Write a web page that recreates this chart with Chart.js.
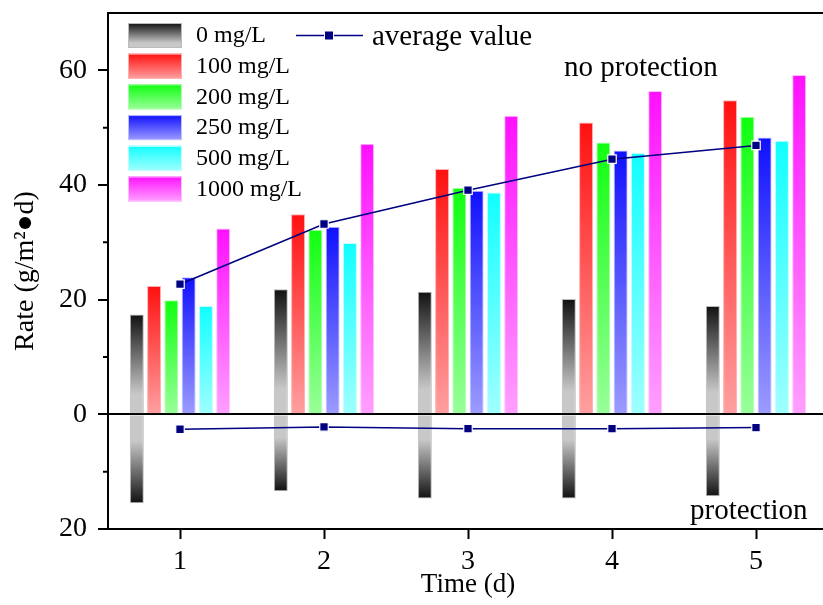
<!DOCTYPE html>
<html>
<head>
<meta charset="utf-8">
<script src="https://cdn.jsdelivr.net/npm/chart.js@4.4.1/dist/chart.umd.min.js"></script>
<style>
  html, body { margin: 0; padding: 0; overflow: hidden; background: #fff; }
  #wrap { width: 823px; height: 605px; overflow: hidden; }
</style>
</head>
<body>
<div id="wrap"><canvas id="rateChart" width="840" height="605"></canvas></div>
<script>
// data
var days = ['1', '2', '3', '4', '5'];
var seriesNames = ['0 mg/L', '100 mg/L', '200 mg/L', '250 mg/L', '500 mg/L', '1000 mg/L'];
var c0 = [17.4, 21.8, 21.4, 20.1, 18.9];
var c100 = [22.4, 34.9, 42.8, 50.9, 54.8];
var c200 = [19.9, 32.2, 39.5, 47.4, 51.9];
var c250 = [23.9, 32.7, 39.0, 46.0, 48.3];
var c500 = [18.9, 29.9, 38.7, 45.6, 47.7];
var c1000 = [32.4, 47.2, 52.1, 56.4, 59.2];
var avgNoProtection = [22.7, 33.2, 39.1, 44.5, 46.9];
var protection = [-15.5, -13.4, -14.7, -14.7, -14.3];
var avgProtection = [-2.6, -2.2, -2.5, -2.5, -2.3];
var yTicks = [-20, 0, 20, 40, 60];
var yMinorTicks = [-10, 10, 30, 50];

var serif = '"Liberation Serif", "Times New Roman", serif';
var navy = '#000080';

// gradient stops per series: [offset, colour], from bar end towards the zero line
var gradStops = [
  [[0, '#111111'], [0.8, '#c8c8c8'], [1, '#c8c8c8']],
  [[0, '#ff1010'], [1, '#ffa0a0']],
  [[0, '#10ff10'], [1, '#99ff99']],
  [[0, '#1010ff'], [1, '#9c9cff']],
  [[0, '#10ffff'], [1, '#a0ffff']],
  [[0, '#ff10ff'], [1, '#ffa0ff']]
];
var edgeColors = ['#bbbbbb', '#ffb0b0', '#b0ffb0', '#c0c0ff', '#c0ffff', '#ffc0ff'];
var protStops = [[0, '#c8c8c8'], [0.3, '#c8c8c8'], [1, '#111111']];

function barGradient(stops) {
  return function(ctx) {
    var chart = ctx.chart;
    var ys = chart.scales.y;
    if (!chart.chartArea || !ys) return stops[0][1];
    var p0 = ys.getPixelForValue(0);
    var p1 = ys.getPixelForValue(ctx.raw);
    if (!isFinite(p0) || !isFinite(p1) || p0 === p1) return stops[0][1];
    var g = chart.ctx.createLinearGradient(0, p1, 0, p0);
    stops.forEach(function(s) { g.addColorStop(s[0], s[1]); });
    return g;
  };
}
function negGradient(stops) {
  return function(ctx) {
    var chart = ctx.chart;
    var ys = chart.scales.y;
    if (!chart.chartArea || !ys) return stops[0][1];
    var p0 = ys.getPixelForValue(0);
    var p1 = ys.getPixelForValue(ctx.raw);
    if (!isFinite(p0) || !isFinite(p1) || p0 === p1) return stops[0][1];
    var g = chart.ctx.createLinearGradient(0, p0, 0, p1);
    stops.forEach(function(s) { g.addColorStop(s[0], s[1]); });
    return g;
  };
}

var barValues = [c0, c100, c200, c250, c500, c1000];
var datasets = [];
barValues.forEach(function(vals, i) {
  datasets.push({
    type: 'bar',
    label: seriesNames[i],
    data: vals,
    stack: 's' + i,
    order: 2,
    backgroundColor: barGradient(gradStops[i]),
    borderColor: edgeColors[i],
    borderWidth: 1
  });
});
datasets.push({
  type: 'bar',
  label: 'protection',
  data: protection,
  stack: 's0',
  order: 2,
  backgroundColor: negGradient(protStops),
  borderColor: '#bbbbbb',
  borderWidth: 1
});
[avgNoProtection, avgProtection].forEach(function(vals, i) {
  datasets.push({
    type: 'line',
    label: 'average value',
    data: vals,
    stack: 'avg' + i,
    order: 0,
    borderColor: navy,
    borderWidth: 1.5,
    pointStyle: 'rect',
    pointRadius: 6,
    pointBackgroundColor: navy,
    pointBorderColor: '#ffffff',
    pointBorderWidth: 1.2,
    tension: 0
  });
});

// frame top line, minor y ticks
var framePlugin = {
  id: 'frame',
  afterDraw: function(chart) {
    var c = chart.ctx, a = chart.chartArea, ys = chart.scales.y;
    c.save();
    c.strokeStyle = '#000';
    c.lineWidth = 2;
    c.beginPath();
    c.moveTo(a.left - 1, a.top);
    c.lineTo(a.right, a.top);
    yMinorTicks.forEach(function(v) {
      var y = ys.getPixelForValue(v);
      c.moveTo(a.left - 5, y);
      c.lineTo(a.left, y);
    });
    c.stroke();
    c.restore();
  }
};

// legend inside the plot, plus the two region labels
var legendPlugin = {
  id: 'insideLegend',
  afterDatasetsDraw: function(chart) {
    var c = chart.ctx;
    c.save();
    c.textBaseline = 'middle';
    c.fillStyle = '#000';
    c.font = '24px ' + serif;
    seriesNames.forEach(function(name, i) {
      var top = 23 + i * 30.7;
      var g = c.createLinearGradient(0, top, 0, top + 25);
      gradStops[i].forEach(function(s) { g.addColorStop(s[0], s[1]); });
      c.fillStyle = g;
      c.fillRect(128, top, 54, 25);
      c.strokeStyle = edgeColors[i];
      c.lineWidth = 1;
      c.strokeRect(128.5, top + 0.5, 53, 24);
      c.fillStyle = '#000';
      c.fillText(name, 196, top + 13);
    });
    // average value entry
    c.strokeStyle = navy;
    c.lineWidth = 1.5;
    c.beginPath();
    c.moveTo(296, 35.5);
    c.lineTo(363, 35.5);
    c.stroke();
    c.fillStyle = '#fff';
    c.fillRect(324, 30.5, 10, 10);
    c.fillStyle = navy;
    c.fillRect(325, 31.5, 8, 8);
    c.fillStyle = '#000';
    c.font = '29px ' + serif;
    c.fillText('average value', 372, 37);
    c.textBaseline = 'alphabetic';
    c.fillText('no protection', 564, 76);
    c.fillText('protection', 690, 519);
    c.restore();
  }
};

Chart.defaults.font.family = serif;
Chart.defaults.color = '#000';

var ctx = document.getElementById('rateChart').getContext('2d');
var rateChart = new Chart(ctx, {
  data: { labels: days, datasets: datasets },
  options: {
    responsive: false,
    animation: false,
    layout: { padding: { top: 13, right: 12, left: 0, bottom: 0 } },
    plugins: { legend: { display: false }, tooltip: { enabled: false } },
    datasets: { bar: { categoryPercentage: 0.72, barPercentage: 0.81 } },
    scales: {
      x: {
        offset: true,
        grid: { display: true, offset: false, drawOnChartArea: false, tickLength: 10, tickWidth: 2, tickColor: '#000' },
        border: { display: true, color: '#000', width: 2 },
        ticks: { font: { size: 28 }, padding: 6, color: '#000' },
        title: { display: true, text: 'Time (d)', font: { size: 27 }, padding: { top: 0, bottom: 4 } },
        afterFit: function(s) { s.height = 76; s.paddingLeft = 0; s.paddingRight = 0; }
      },
      y: {
        min: -20,
        max: 70,
        stacked: true,
        afterBuildTicks: function(s) { s.ticks = yTicks.map(function(v) { return { value: v }; }); },
        grid: {
          color: function(c) { return c.tick && c.tick.value === 0 ? '#000' : 'rgba(0,0,0,0)'; },
          lineWidth: 2,
          tickLength: 10,
          tickWidth: 2,
          tickColor: '#000'
        },
        border: { display: true, color: '#000', width: 2 },
        ticks: {
          font: { size: 28 },
          padding: 11,
          color: '#000',
          callback: function(v) { return String(Math.abs(v)); }
        },
        title: { display: true, text: 'Rate (g/m²●d)', font: { size: 28 }, padding: { top: 9, bottom: 0 } },
        afterFit: function(s) { s.width = 108; s.paddingTop = 0; s.paddingBottom = 0; }
      }
    }
  },
  plugins: [framePlugin, legendPlugin]
});
</script>
</body>
</html>
